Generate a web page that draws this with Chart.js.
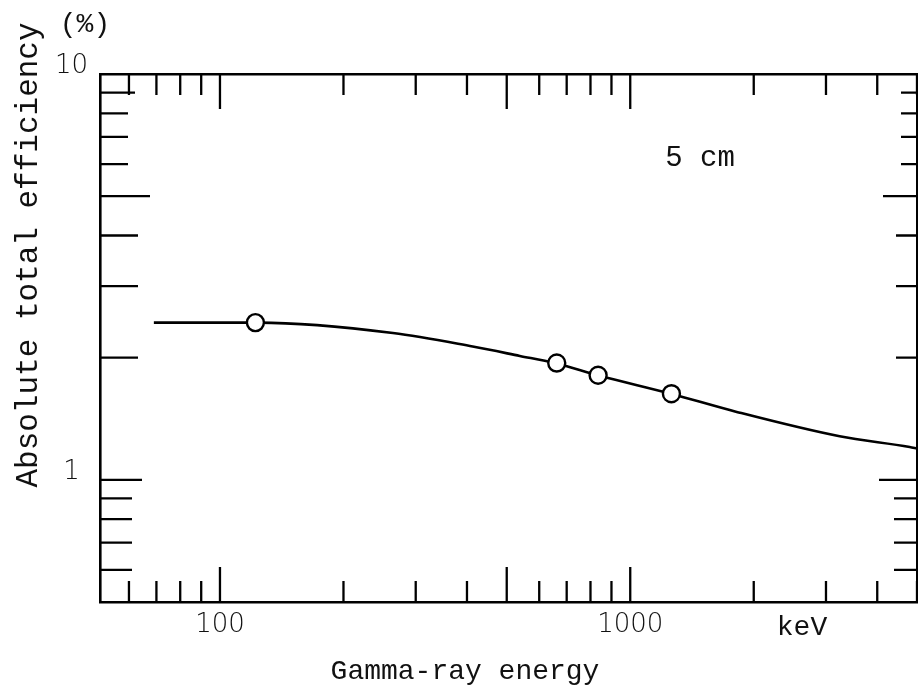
<!DOCTYPE html>
<html>
<head>
<meta charset="utf-8">
<script src="https://cdn.jsdelivr.net/npm/chart.js@4.4.1/dist/chart.umd.min.js"></script>
<style>
  html, body { margin: 0; padding: 0; background: #fff; }
  canvas { display: block; }
</style>
</head>
<body>
<canvas id="chart" width="918" height="696"></canvas>
<script>
// Measured efficiencies (keV, %)
const energies = [122, 662, 835, 1260];
const efficiency = [2.44, 1.94, 1.81, 1.63];

// Fitted curve through the measurements
const curveEnergies = [69, 124, 264, 413, 538, 655, 834, 1256, 1818, 3240, 4800, 5000];
const curveEfficiency = [2.44, 2.44, 2.3, 2.13, 2.02, 1.94, 1.81, 1.63, 1.47, 1.28, 1.205, 1.195];

// Axis ticks and the ones that carry a number
const energyTicks = [60, 70, 80, 90, 100, 200, 300, 400, 500, 600, 700, 800, 900, 1000, 2000, 3000, 4000, 5000];
const efficiencyTicks = [0.6, 0.7, 0.8, 0.9, 1, 2, 3, 4, 5, 6, 7, 8, 9, 10];
const energyLabels = [100, 1000];
const efficiencyLabels = [1, 10];

const mono = "'Liberation Mono', 'DejaVu Sans Mono', monospace";
const sans = "'DejaVu Sans', sans-serif";
const ink = "#111";

// Inward tick marks on all four sides
function xTickLen(v) {
  return v === 100 || v === 500 || v === 1000 ? 35 : 21;
}
function yTickLen(v, side) {
  if (side === "left") {
    if (v === 1) return 42;
    if (v === 5) return 50;
    if (v >= 2 && v <= 4) return 38;
    if (v === 9) return 35;
    if (v < 1) return 32;
    return 28;
  }
  if (v === 1) return 38;
  if (v === 5) return 34;
  if (v >= 2 && v <= 4) return 21;
  if (v < 1) return 23;
  return 16;
}

const tickMarks = {
  id: "tickMarks",
  afterDatasetsDraw(chart) {
    const { ctx, chartArea: a, scales } = chart;
    ctx.save();
    ctx.strokeStyle = "#000";
    ctx.lineWidth = 2.3;
    ctx.beginPath();
    energyTicks.forEach((v) => {
      const x = scales.x.getPixelForValue(v);
      ctx.moveTo(x, a.bottom);
      ctx.lineTo(x, a.bottom - xTickLen(v));
      ctx.moveTo(x, a.top);
      ctx.lineTo(x, a.top + xTickLen(v));
    });
    efficiencyTicks.forEach((v) => {
      if (v === 10) return;
      const y = scales.y.getPixelForValue(v);
      ctx.moveTo(a.left, y);
      ctx.lineTo(a.left + yTickLen(v, "left"), y);
      ctx.moveTo(a.right, y);
      ctx.lineTo(a.right - yTickLen(v, "right"), y);
    });
    ctx.stroke();
    ctx.restore();
  },
};

// Titles and notes in typewriter face
const notes = {
  id: "notes",
  afterDraw(chart) {
    const { ctx, chartArea: a, scales } = chart;
    ctx.save();
    ctx.fillStyle = ink;
    ctx.textAlign = "center";
    ctx.textBaseline = "middle";

    ctx.font = "28px " + mono;
    ctx.fillText("Gamma-ray energy", a.left + 365, a.bottom + 70);
    ctx.fillText("keV", scales.x.getPixelForValue(3000) - 24, a.bottom + 26);
    ctx.fillText("(%)", a.left - 15, a.top - 49);

    ctx.font = "29px " + mono;
    ctx.fillText("5 cm", scales.x.getPixelForValue(1480), scales.y.getPixelForValue(6.2));

    ctx.font = "31px " + mono;
    ctx.translate(a.left - 71, a.top + 181);
    ctx.rotate(-Math.PI / 2);
    ctx.fillText("Absolute total efficiency", 0, 0);
    ctx.restore();
  },
};

function pinTicks(values) {
  return (scale) => {
    scale.ticks = values.map((value) => ({ value }));
  };
}

const frame = { display: true, color: "#000", width: 2.6 };

new Chart(document.getElementById("chart"), {
  type: "line",
  data: {
    datasets: [
      {
        label: "measured",
        data: energies.map((x, i) => ({ x, y: efficiency[i] })),
        showLine: false,
        pointRadius: 8.5,
        pointBackgroundColor: "#fff",
        pointBorderColor: "#000",
        pointBorderWidth: 2.4,
      },
      {
        label: "curve",
        data: curveEnergies.map((x, i) => ({ x, y: curveEfficiency[i] })),
        borderColor: "#000",
        borderWidth: 2.6,
        pointRadius: 0,
        cubicInterpolationMode: "monotone",
        fill: false,
      },
    ],
  },
  options: {
    responsive: false,
    animation: false,
    devicePixelRatio: 1,
    layout: {
      autoPadding: false,
      padding: { top: 74, right: 1, left: 0, bottom: 0 },
    },
    plugins: { legend: { display: false }, tooltip: { enabled: false } },
    scales: {
      x: {
        type: "logarithmic",
        position: "bottom",
        min: 51,
        max: 5000,
        afterBuildTicks: pinTicks(energyTicks),
        afterFit: (s) => {
          s.height = 94;
          s.paddingLeft = 0;
          s.paddingRight = 0;
        },
        grid: { display: false, drawTicks: false },
        border: frame,
        ticks: {
          autoSkip: false,
          maxRotation: 0,
          padding: 8,
          color: ink,
          font: { family: sans, size: 26, weight: 200 },
          callback: (v) => (energyLabels.includes(v) ? String(v) : ""),
        },
      },
      x2: {
        type: "logarithmic",
        position: "top",
        min: 51,
        max: 5000,
        afterFit: (s) => { s.height = 0; },
        grid: { display: false, drawTicks: false },
        border: frame,
        ticks: { display: false },
      },
      y: {
        type: "logarithmic",
        position: "left",
        min: 0.5,
        max: 10,
        afterBuildTicks: pinTicks(efficiencyTicks),
        afterFit: (s) => { s.width = 100; },
        grid: { display: false, drawTicks: false },
        border: frame,
        ticks: {
          autoSkip: false,
          crossAlign: "center",
          padding: 12,
          labelOffset: -8,
          color: ink,
          font: { family: sans, size: 26, weight: 200 },
          callback: (v) => (efficiencyLabels.includes(v) ? String(v) : ""),
        },
      },
      y2: {
        type: "logarithmic",
        position: "right",
        min: 0.5,
        max: 10,
        afterFit: (s) => { s.width = 0; },
        grid: { display: false, drawTicks: false },
        border: frame,
        ticks: { display: false },
      },
    },
  },
  plugins: [tickMarks, notes],
});
</script>
</body>
</html>
